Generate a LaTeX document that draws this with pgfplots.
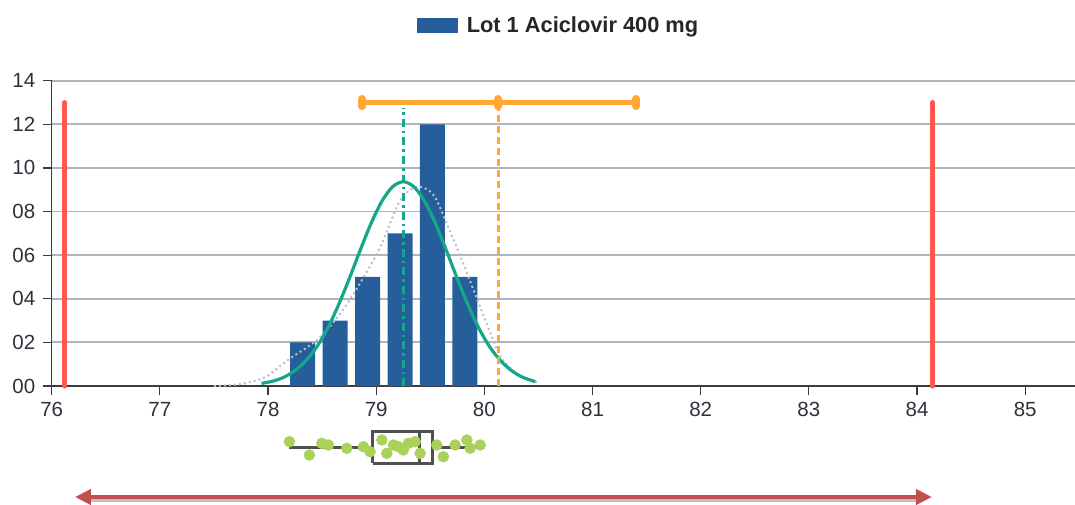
\documentclass[border=0pt]{standalone}
\usepackage{fontspec}
\setmainfont{Liberation Sans}
\usepackage{pgfplots}
\pgfplotsset{compat=1.18}
\usetikzlibrary{arrows.meta}
\definecolor{barblue}{RGB}{38,94,155}
\definecolor{redline}{RGB}{255,88,78}
\definecolor{orangeline}{RGB}{255,166,52}
\definecolor{tealline}{RGB}{22,166,138}
\definecolor{dotgreen}{RGB}{170,210,90}
\definecolor{boxgray}{RGB}{80,80,80}
\definecolor{arrowred}{RGB}{192,80,77}
\definecolor{gridc}{RGB}{172,182,192}
\definecolor{axisc}{RGB}{60,60,60}
\definecolor{tickc}{RGB}{45,50,58}
\definecolor{kdegray}{RGB}{185,190,198}
\begin{document}
\begin{tikzpicture}[x=1pt,y=1pt]
\useasboundingbox (0,0) rectangle (1075,504);
% main histogram axis
\begin{axis}[
  at={(51.7pt,118pt)}, anchor=south west,
  scale only axis, width=1023.3pt, height=305.3pt,
  xmin=76, xmax=85.46, ymin=0, ymax=14,
  axis x line=bottom, axis y line=left,
  axis line style={-, line width=1.5pt, color=axisc},
  xtick={76,77,...,85},
  ytick={0,2,...,14},
  yticklabels={00,02,04,06,08,10,12,14},
  tick align=outside, major tick length=9pt,
  tick style={line width=1.2pt, color=axisc},
  ymajorgrids, grid style={line width=1.8pt, color=gridc},
  /pgf/number format/assume math mode=true,
  ticklabel style={font=\fontsize{20.5}{24}\selectfont, text=tickc},
  xticklabel style={yshift=-4pt},
  yticklabel style={xshift=-4pt},
  clip=false,
  legend style={at={(0.4943,1.181)}, anchor=center, draw=none, fill=none,
    font=\bfseries\fontsize{21.8}{26}\selectfont, text=black!85,
    inner sep=0pt, nodes={inner sep=0pt}, legend cell align=left},
  legend image code/.code={\fill[barblue] (0pt,-7.5pt) rectangle (41pt,7.5pt); \path (50pt,0pt);},
]
\addplot[ybar, bar width=0.231, fill=barblue, draw=none] coordinates {
  (78.32,2) (78.62,3) (78.92,5) (79.22,7) (79.52,12) (79.82,5)};
\addlegendentry{Lot 1 Aciclovir 400 mg}
% kernel density (dotted gray)
\addplot[smooth, kdegray, line width=2pt, dash pattern=on 2pt off 3pt, forget plot] coordinates {
  (77.5,0.0) (77.7,0.06) (77.85,0.2) (77.99,0.45) (78.2,1.25) (78.45,2.1) (78.67,3.33)
  (78.85,4.71) (79.04,6.39) (79.22,8.5) (79.38,9.14) (79.53,8.76) (79.65,7.47)
  (79.78,5.93) (79.90,4.40) (80.02,2.88) (80.15,1.34) (80.30,0.58) (80.43,0.28) (80.5,0.15)};
% fitted normal curve
\addplot[smooth, tealline, line width=3.2pt, forget plot] coordinates {
  (77.94,0.12) (78.05,0.23) (78.15,0.41) (78.25,0.71) (78.35,1.16) (78.45,1.79)
  (78.55,2.64) (78.65,3.70) (78.75,4.91) (78.85,6.20) (78.95,7.43) (79.05,8.45)
  (79.15,9.13) (79.25,9.37) (79.35,9.13) (79.45,8.45) (79.55,7.43) (79.65,6.20)
  (79.75,4.91) (79.85,3.70) (79.95,2.64) (80.05,1.79) (80.15,1.16) (80.25,0.71)
  (80.35,0.41) (80.47,0.20)};
% mean line (teal dash-dot)
\addplot[tealline, line width=3pt, dash pattern=on 8pt off 4pt on 2.5pt off 4pt, forget plot]
  coordinates {(79.25,0) (79.25,12.75)};
% orange dashed line
\addplot[orangeline, line width=2.2pt, dash pattern=on 7pt off 4pt, forget plot]
  coordinates {(80.13,0) (80.13,13)};
% red spec limits
\addplot[redline, line width=5pt, line cap=round, forget plot]
  coordinates {(76.12,0) (76.12,13)};
\addplot[redline, line width=5pt, line cap=round, forget plot]
  coordinates {(84.14,0) (84.14,13)};
% orange interval
\addplot[orangeline, line width=5pt, forget plot]
  coordinates {(78.87,13) (81.40,13)};
\addplot[orangeline, only marks, mark=|, mark size=3.5pt,
  mark options={line width=8pt, line cap=round}, forget plot]
  coordinates {(78.87,13) (80.13,13) (81.40,13)};
\end{axis}
% box plot and arrow axis
\begin{axis}[
  at={(51.7pt,0pt)}, anchor=south west,
  scale only axis, width=1023.3pt, height=100pt,
  xmin=76, xmax=85.46, ymin=0, ymax=100,
  axis lines=none, clip=false,
]
\addplot[dotgreen, only marks, mark=*, mark size=5.5pt, mark options={draw=dotgreen, fill=dotgreen}] coordinates {
  (78.197,62.3) (78.382,49) (78.497,60.7) (78.558,59) (78.728,55.7) (78.882,57.3)
  (78.943,52.3) (79.052,64) (79.098,50.7) (79.159,59) (79.205,57.3) (79.251,54)
  (79.298,60.7) (79.360,62.3) (79.406,50.7) (79.560,59) (79.621,47.3) (79.729,59)
  (79.838,64) (79.868,55.7) (79.961,59)};
\addplot[boxgray, line width=3pt] coordinates {(78.197,56.7) (78.97,56.7)};
\addplot[boxgray, line width=3pt] coordinates {(79.52,56.7) (79.961,56.7)};
\addplot[boxgray, line width=3pt] coordinates {(78.97,40.7) (79.52,40.7) (79.52,72.3) (78.97,72.3) (78.97,40.7)};
\addplot[boxgray, line width=3pt] coordinates {(79.40,40.7) (79.40,72.3)};
\addplot[black!25, line width=3pt] coordinates {(76.30,3.5) (84.05,3.5)};
\addplot[arrowred, line width=4.5pt, {Triangle[length=16pt,width=15pt]}-{Triangle[length=16pt,width=15pt]}]
  coordinates {(76.215,7) (84.138,7)};
\end{axis}
\end{tikzpicture}
\end{document}
